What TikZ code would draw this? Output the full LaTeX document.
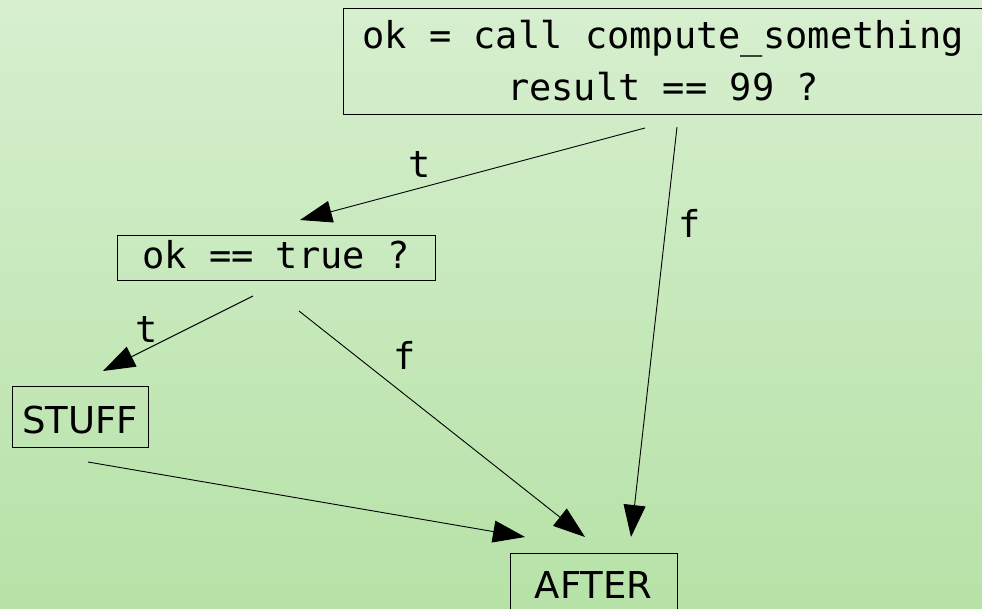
\documentclass[tikz,border=0pt]{standalone}
\usepackage{fontspec}
\setmainfont{DejaVu Sans}
\newfontfamily\monofont{DejaVu Sans Mono}
\usetikzlibrary{arrows.meta}
\definecolor{bgtop}{RGB}{215,239,207}
\definecolor{bgbot}{RGB}{182,226,167}
\tikzset{
  box/.style={draw=black, line width=0.9pt, inner sep=0pt,
    font=\monofont\fontsize{37}{52}\selectfont},
  sansbox/.style={box, font=\fontsize{37}{52}\selectfont},
  conn/.style={line width=0.9pt, -{Triangle[length=32pt,width=22pt]}},
  lbl/.style={inner sep=0pt, anchor=base, font=\monofont\fontsize{37}{44}\selectfont}
}
\begin{document}
\begin{tikzpicture}[x=1pt,y=-1pt]
\useasboundingbox (0,0) rectangle (982,609);
\clip (0,0) rectangle (982,609);
\fill[top color=bgtop, bottom color=bgbot] (0,0) rectangle (982,609);

\node[box, minimum width=640pt, minimum height=106pt, align=center] (top) at (663,61)
  {ok = call compute\_something\\result == 99 ?};
\node[box, minimum width=318pt, text height=34pt, text depth=11pt, anchor=base] (cond) at (276,269) {ok == true ?};
\node[sansbox, minimum width=136pt, text height=47pt, text depth=14pt, anchor=base] (stuff) at (80,433) {STUFF};
\node[sansbox, minimum width=167pt, text height=45pt, text depth=16pt, anchor=base] (after) at (593.5,598) {AFTER};

\coordinate (e1s) at (645,128);  \coordinate (e1e) at (300,220);
\coordinate (e2s) at (677,127);  \coordinate (e2e) at (631,537);
\coordinate (e3s) at (253,296);  \coordinate (e3e) at (103,371);
\coordinate (e4s) at (299,311);  \coordinate (e4e) at (585,537);
\coordinate (e5s) at (88,462);   \coordinate (e5e) at (525,537);

\draw[conn] (e1s) -- (e1e);
\draw[conn] (e2s) -- (e2e);
\draw[conn] (e3s) -- (e3e);
\draw[conn] (e4s) -- (e4e);
\draw[conn] (e5s) -- (e5e);

\node[lbl] (l1) at (420,178) {t};
\node[lbl] (l2) at (690,238) {f};
\node[lbl] (l3) at (147,342) {t};
\node[lbl] (l4) at (405,369) {f};
\end{tikzpicture}
\end{document}
